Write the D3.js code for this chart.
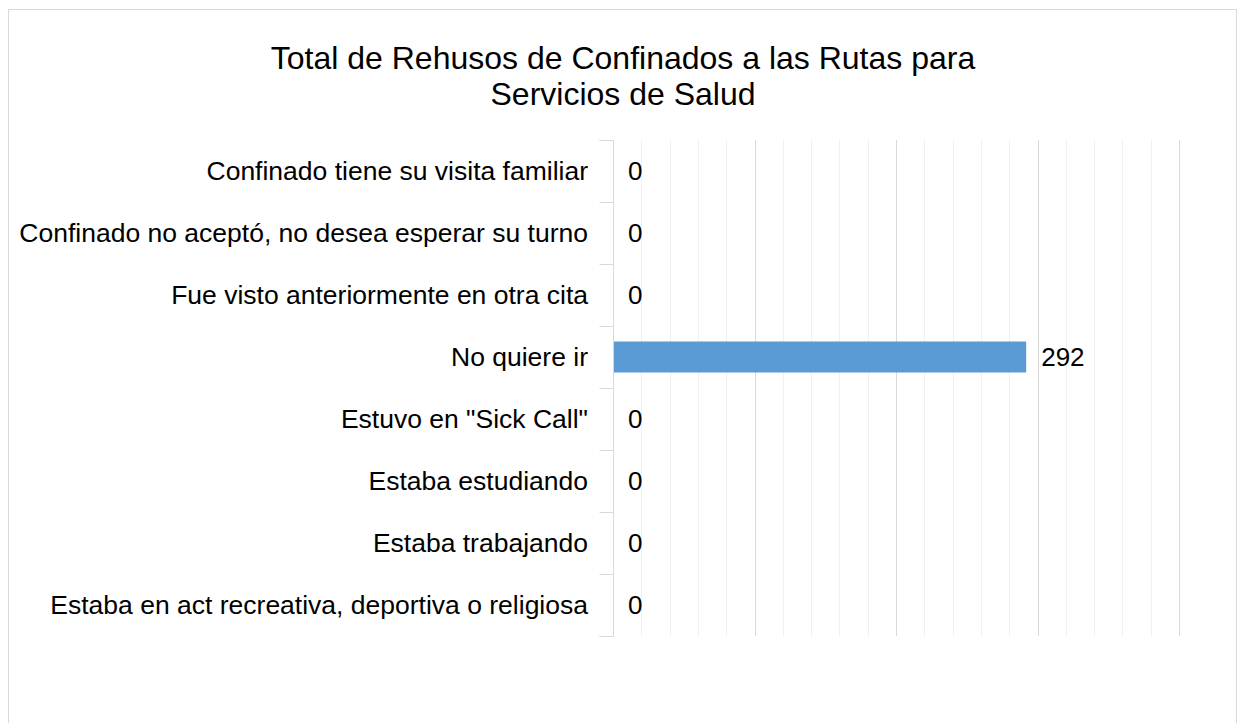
<!DOCTYPE html>
<html>
<head>
<meta charset="utf-8">
<script src="https://cdn.jsdelivr.net/npm/d3@7"></script>
<style>
  body { margin: 0; background: #fff; }
  svg { display: block; font-family: "Liberation Sans", Arial, sans-serif; }
</style>
</head>
<body>
<script>
const categories = [
  "Confinado tiene su visita familiar",
  "Confinado no aceptó, no desea esperar su turno",
  "Fue visto anteriormente en otra cita",
  "No quiere ir",
  "Estuvo en \"Sick Call\"",
  "Estaba estudiando",
  "Estaba trabajando",
  "Estaba en act recreativa, deportiva o religiosa"
];
const values = [0, 0, 0, 292, 0, 0, 0, 0];
const titleLines = ["Total de Rehusos de Confinados a las Rutas para", "Servicios de Salud"];

const width = 1238, height = 723;
const margin = {top: 140, right: 59, bottom: 87, left: 613};

const data = categories.map((c, i) => ({name: c, value: values[i]}));

const svg = d3.select("body").append("svg")
    .attr("width", width)
    .attr("height", height);

// chart area border
svg.append("rect")
    .attr("x", 8.5).attr("y", 9.5)
    .attr("width", 1228).attr("height", 730)
    .attr("fill", "none")
    .attr("stroke", "#d9d9d9");

const x = d3.scaleLinear([0, 400], [margin.left, width - margin.right]);
const y = d3.scaleBand(categories, [margin.top, height - margin.bottom]).paddingInner(0.5).paddingOuter(0.25);

// minor gridlines
svg.append("g")
  .selectAll("line")
  .data(d3.range(20, 401, 20).filter(v => v % 100 !== 0))
  .join("line")
    .attr("x1", d => Math.round(x(d)) + 0.5)
    .attr("x2", d => Math.round(x(d)) + 0.5)
    .attr("y1", margin.top)
    .attr("y2", height - margin.bottom)
    .attr("stroke", "#f0f0f0");

// major gridlines
svg.append("g")
  .selectAll("line")
  .data([100, 200, 300, 400])
  .join("line")
    .attr("x1", d => Math.round(x(d)) + 0.5)
    .attr("x2", d => Math.round(x(d)) + 0.5)
    .attr("y1", margin.top)
    .attr("y2", height - margin.bottom)
    .attr("stroke", "#d9d9d9");

// bars
svg.append("g")
  .selectAll("rect")
  .data(data)
  .join("rect")
    .attr("x", x(0) + 1)
    .attr("y", d => y(d.name))
    .attr("width", d => Math.max(0, x(d.value) - x(0) - 1))
    .attr("height", y.bandwidth())
    .attr("fill", "#5b9bd5");

// category axis
const yAxis = d3.axisLeft(d3.scalePoint(d3.range(categories.length + 1), [margin.top, height - margin.bottom]))
    .tickSize(14)
    .tickFormat("");
svg.append("g")
    .attr("transform", `translate(${margin.left + 0.5},0)`)
    .call(yAxis)
    .call(g => g.selectAll("path, line").attr("stroke", "#d9d9d9"))
    .call(g => g.select(".domain").attr("d", `M-14,${margin.top + 0.5}H0V${height - margin.bottom + 0.5}H-14`));

svg.append("g")
    .attr("font-size", 26.5)
    .attr("fill", "#000")
  .selectAll("text")
  .data(data)
  .join("text")
    .attr("x", 588)
    .attr("y", d => y(d.name) + y.bandwidth() / 2)
    .attr("dy", "0.35em")
    .attr("text-anchor", "end")
    .text(d => d.name);

// value labels
svg.append("g")
    .attr("font-size", 26)
    .attr("fill", "#000")
  .selectAll("text")
  .data(data)
  .join("text")
    .attr("x", d => x(d.value) + 15)
    .attr("y", d => y(d.name) + y.bandwidth() / 2)
    .attr("dy", "0.35em")
    .text(d => d.value);

// title
svg.append("text")
    .attr("x", 623)
    .attr("y", 69)
    .attr("text-anchor", "middle")
    .attr("font-size", 32)
    .attr("fill", "#000")
  .selectAll("tspan")
  .data(titleLines)
  .join("tspan")
    .attr("x", 623)
    .attr("dy", (d, i) => i ? 36 : 0)
    .text(d => d);
</script>
</body>
</html>
